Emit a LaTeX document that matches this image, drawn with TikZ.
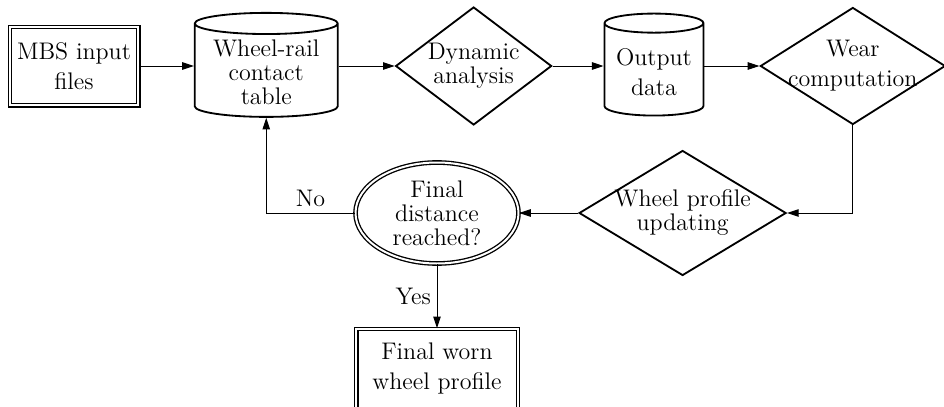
\documentclass[tikz,border=0pt]{standalone}
\usepackage{tikz}
\usetikzlibrary{arrows.meta,positioning,shapes.geometric}
\newcommand{\biglarge}{\fontsize{14.4pt}{18pt}\selectfont}
\newcommand{\tightlarge}{\fontsize{14.4pt}{14.4pt}\selectfont}
\tikzset{
  filebox/.style={draw,double,double distance=1.2pt,line width=0.8pt,align=center,
    minimum width=77pt,minimum height=47pt,inner sep=2pt,font=\biglarge},
  databox/.style={draw,cylinder,shape border rotate=90,line width=1.1pt,
    align=center,inner ysep=1pt,font=\biglarge},
  processbox/.style={draw,diamond,line width=1.1pt,align=center,font=\tightlarge,
    inner xsep=-3mm,inner ysep=-2mm},
  checkbox/.style={draw,ellipse,double,double distance=1.2pt,line width=0.8pt,
    align=center,inner sep=0pt,font=\tightlarge},
  flowarrow/.style={-{Triangle[length=7pt,width=4.5pt]},line width=0.6pt},
  flowlabel/.style={font=\biglarge}
}
\begin{document}
\begin{tikzpicture}[node distance=33pt]
  \useasboundingbox (0,0) rectangle (566.4pt,-243.6pt);
  % top row
  \node[filebox] (mbs) at (44.4pt,-39.6pt) {MBS input\\files};
  \node[databox,font=\tightlarge,aspect=0.18,minimum width=85.8pt,minimum height=62.4pt,
    right=33pt of mbs,yshift=-4pt] (contact) {Wheel-rail\\contact\\table};
  \node[processbox,aspect=1.32,minimum width=93.6pt,minimum height=70.8pt,
    right=33.6pt of contact,yshift=4pt] (dyn) {Dynamic\\analysis};
  \node[databox,aspect=0.22,minimum width=59.4pt,minimum height=61.2pt,
    right=30.6pt of dyn,yshift=-3.6pt] (out) {Output\\data};
  \node[processbox,font=\biglarge,aspect=1.58,minimum width=111pt,minimum height=70.2pt,
    right=33pt of out,yshift=3.6pt] (wear) {Wear\\computation};
  % bottom row
  \node[checkbox,minimum width=97.8pt,minimum height=60.6pt] (fin) at (262.2pt,-127.8pt)
    {Final\\distance\\reached?};
  \node[processbox,aspect=1.66,minimum width=124.2pt,minimum height=75pt,
    right=35.4pt of fin] (update) {Wheel profile\\updating};
  \node[filebox,minimum width=97pt,minimum height=48pt,below=38.4pt of fin]
    (worn) {Final worn\\wheel profile};

  \draw[flowarrow] (mbs.east)--(mbs.east-|contact.west);
  \draw[flowarrow] (contact.east|-dyn.west)--(dyn.west);
  \draw[flowarrow] (dyn.east)--(dyn.east-|out.west);
  \draw[flowarrow] (out.east|-wear.west)--(wear.west);
  \draw[flowarrow] (wear.south)|-(update.east);
  \draw[flowarrow] (update)--(fin);
  \draw[flowarrow] (fin.west)-|node[flowlabel,pos=0.25,above] {No} (contact.south);
  \draw[flowarrow] (fin)--node[flowlabel,left] {Yes} (worn);
\end{tikzpicture}
\end{document}
